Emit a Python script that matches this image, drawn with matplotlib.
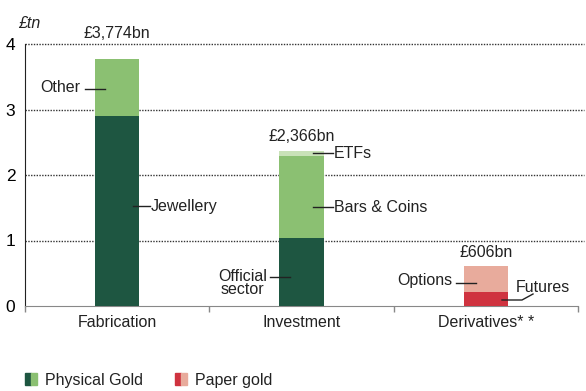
import matplotlib.pyplot as plt
from matplotlib.patches import Rectangle

plt.rcParams['font.family'] = ['Liberation Sans', 'DejaVu Sans']

categories = ["Fabrication", "Investment", "Derivatives* *"]
totals_label = ["£3,774bn", "£2,366bn", "£606bn"]
totals = [3.774, 2.366, 0.606]
# segments per category (bottom to top)
fab_values = [2.90, 0.874]          # Jewellery, Other
inv_values = [1.04, 1.25, 0.076]    # Official sector, Bars & Coins, ETFs
der_values = [0.22, 0.386]          # Futures, Options
yticks = [0, 1, 2, 3, 4]

DARK = "#1e5641"
LIGHT = "#8bc072"
PALE = "#c9e2b8"
RED = "#cf333f"
PINK = "#e8ab9c"

fig = plt.figure(figsize=(5.86, 3.91), dpi=100)
ax = fig.add_axes([25/586, 85/391, 553/586, 262/391])
W = 0.24

def stack(x, vals, cols):
    b = 0
    for v, c in zip(vals, cols):
        ax.bar(x, v, W, bottom=b, color=c, zorder=3, linewidth=0)
        b += v

stack(0, fab_values, [DARK, LIGHT])
stack(1, inv_values, [DARK, LIGHT, PALE])
stack(2, der_values, [RED, PINK])

ax.set_xlim(-0.5, 2.5)
ax.set_ylim(0, 4)
ax.set_yticks(yticks)
ax.set_yticklabels([str(t) for t in yticks], fontsize=12.5)
for t in yticks[1:]:
    ax.plot([-0.5, 2.53], [t, t], ls=(0, (1, 1)), color="#333333", lw=1, zorder=1, clip_on=False)
ax.set_xticks([-0.5, 0.5, 1.5, 2.5])
ax.set_xticklabels([])
ax.tick_params(axis='x', length=4, color="#888888", width=1)
ax.tick_params(axis='y', length=0, pad=7)
for i, c in enumerate(categories):
    ax.text(i, -0.13, c, ha='center', va='top', fontsize=11.5, color="#222222")
for s in ['top', 'right']:
    ax.spines[s].set_visible(False)
ax.spines['left'].set_color("#222222")
ax.spines['bottom'].set_color("#888888")

def px(x):
    return (x - 25) / 553 * 3 - 0.5

def py(y):
    return (306 - y) / 65.5

# total labels: offset above bar top (in pixels)
label_gap_px = [25, 15, 14]
for i, (t, lab) in enumerate(zip(totals, totals_label)):
    ax.text(i, t + label_gap_px[i] / 65.5, lab, ha='center', va='center', fontsize=11.5, color="#222222")

fig.text(18/586, 1 - 24/391, "£tn", fontsize=11.5, style='italic', va='center', ha='left', color="#222222")

lk = dict(color="#222222", lw=1, zorder=4)
tk = dict(fontsize=11.5, color="#222222", va='center')
# Other
ax.plot([px(85), px(105)], [py(89)] * 2, **lk)
ax.text(px(80), py(87), "Other", ha='right', **tk)
# Jewellery
ax.plot([px(133), px(150)], [py(206)] * 2, **lk)
ax.text(px(151), py(207), "Jewellery", ha='left', **tk)
# ETFs
ax.plot([px(313), px(333)], [py(153)] * 2, **lk)
ax.text(px(334), py(153), "ETFs", ha='left', **tk)
# Bars & Coins
ax.plot([px(313), px(333)], [py(207)] * 2, **lk)
ax.text(px(334), py(207), "Bars & Coins", ha='left', **tk)
# Official sector
ax.plot([px(270), px(290)], [py(277)] * 2, **lk)
ax.text(px(267), py(283), "Official\nsector", ha='right', linespacing=0.9, multialignment='center', **tk)
# Options
ax.plot([px(456), px(476)], [py(283)] * 2, **lk)
ax.text(px(452), py(281), "Options", ha='right', **tk)
# Futures
ax.plot([px(502), px(522), px(533)], [py(300), py(300), py(294)], **lk)
ax.text(px(516), py(287), "Futures", ha='left', **tk)

# Legend
def sq(x0, c1, c2):
    fig.patches.append(Rectangle((x0/586, 1 - 385/391), 6/586, 12/391, transform=fig.transFigure, color=c1, figure=fig))
    fig.patches.append(Rectangle(((x0 + 6)/586, 1 - 385/391), 6/586, 12/391, transform=fig.transFigure, color=c2, figure=fig))

sq(25, DARK, LIGHT)
fig.text(45/586, 1 - 380/391, "Physical Gold", fontsize=11.5, va='center', ha='left', color="#222222")
sq(175, RED, PINK)
fig.text(195/586, 1 - 380/391, "Paper gold", fontsize=11.5, va='center', ha='left', color="#222222")

fig.savefig("out.png", dpi=100)
